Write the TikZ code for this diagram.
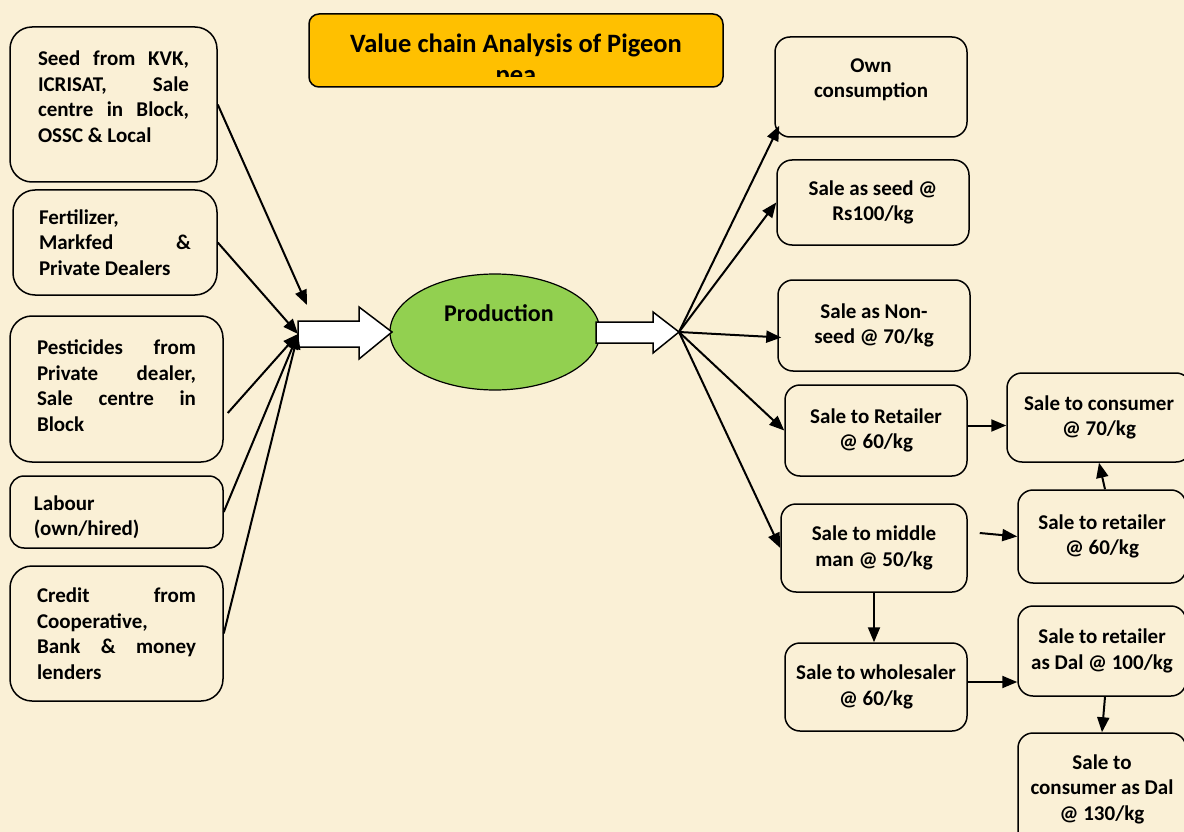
\documentclass[tikz,border=0pt]{standalone}
\usepackage{fontspec}
\setmainfont{Carlito}
\usetikzlibrary{shapes.geometric}
\usetikzlibrary{arrows.meta, positioning, calc}
\usepackage{xcolor}
\definecolor{paper}{RGB}{250,240,214}
\definecolor{titlefill}{RGB}{255,192,0}
\definecolor{prodfill}{RGB}{146,208,80}

\begin{document}
\begin{tikzpicture}[x=1pt, y=-1pt,
    every node/.style={font=\fontsize{21pt}{25.5pt}\selectfont\bfseries},
    inbox/.style={draw, line width=1.5pt, rounded corners=22pt,
        align=justify, inner sep=0pt},
    outbox/.style={draw, line width=1.5pt, rounded corners=15pt,
        align=center, inner sep=0pt},
    feed/.style={line width=2pt, -{Triangle[length=15pt,width=12pt]}},
    fat/.style={draw, line width=1.5pt, fill=white, line join=miter}]

    \fill[paper] (0,0) rectangle (1184,832);
    \useasboundingbox (0,0) rectangle (1184,832);

    % title
    \node[draw, line width=1.5pt, rounded corners=10pt, fill=titlefill,
        minimum width=414pt, minimum height=73pt] (title) at (516,50.5) {};
    \begin{scope}
        \clip (310,15) rectangle (722,77);
        \node[font=\fontsize{26.5pt}{31pt}\selectfont\bfseries, align=center]
            (titletext) at (516,61) {Value chain Analysis of Pigeon\\pea};
    \end{scope}

    % inputs
    \node[inbox, text width=151pt, minimum width=207pt, minimum height=155pt]
        (seed) at (113.5,104.5)
        {Seed from KVK,\linebreak ICRISAT, Sale\linebreak centre in Block,\linebreak OSSC \& Local\par\vspace*{16pt}\nointerlineskip\hbox{}};
    \node[inbox, text width=152pt, minimum width=204pt, minimum height=105pt]
        (fert) at (115,242.5)
        {Fertilizer,\linebreak Markfed \&\linebreak Private Dealers};
    \node[inbox, text width=159pt, minimum width=213pt, minimum height=146pt]
        (pest) at (116.5,389)
        {Pesticides from\linebreak Private dealer,\linebreak Sale centre in\linebreak Block\par\vspace*{7pt}\nointerlineskip\hbox{}};
    \node[inbox, rounded corners=14pt, text width=165pt, minimum width=213pt,
        minimum height=72pt] (labour) at (116.5,512)
        {Labour\newline(own/hired)\par\vspace*{-10pt}\nointerlineskip\hbox{}};
    \node[inbox, text width=159pt, minimum width=213pt, minimum height=135pt]
        (credit) at (116.5,633.5)
        {Credit from\linebreak Cooperative,\linebreak Bank \& money\linebreak lenders};

    % production
    \node[draw, ellipse, fill=prodfill, line width=1.2pt, minimum width=210pt,
        minimum height=116pt, label={[yshift=19pt, xshift=4pt,
        font=\fontsize{24pt}{28pt}\selectfont\bfseries]center:Production}]
        (prod) at (495,332) {};
    \draw[fat] (298,321) -- (359,321) -- (359,307) -- (392,332) -- (359,359)
        -- (359,347) -- (298,347) -- cycle;
    \draw[fat] (596,322) -- (653,322) -- (653,312) -- (679,332) -- (653,353)
        -- (653,343) -- (596,343) -- cycle;
    \coordinate (inL) at (298,334);
    \coordinate (seedtip) at (307,305);
    \coordinate (hub) at (679,332);

    % outlets
    \node[outbox, minimum width=192pt, minimum height=100pt] (own) at (871,87)
        {Own\\consumption\\[-8pt]\mbox{}};
    \node[outbox, minimum width=192pt, minimum height=85pt] (sseed) at (873,202.5)
        {Sale as seed @\\Rs100/kg};
    \node[outbox, minimum width=192pt, minimum height=91pt] (nonseed) at (874,325.5)
        {Sale as Non-\\seed @ 70/kg};
    \node[outbox, minimum width=182pt, minimum height=91pt] (retailer) at (876,430.5)
        {Sale to Retailer\\@ 60/kg};
    \node[outbox, minimum width=186pt, minimum height=88pt] (middle) at (874,548)
        {Sale to middle\\man @ 50/kg};
    \node[outbox, minimum width=182pt, minimum height=88pt] (whole) at (876,687)
        {Sale to wholesaler\\@ 60/kg};
    \node[outbox, minimum width=184pt, minimum height=89pt] (cons70) at (1099,417.5)
        {Sale to consumer\\@ 70/kg};
    \node[outbox, minimum width=168pt, minimum height=93pt] (ret60) at (1102,536.5)
        {Sale to retailer\\@ 60/kg};
    \node[outbox, minimum width=168pt, minimum height=90pt] (dalret) at (1102,651)
        {Sale to retailer\\as Dal @ 100/kg};
    \node[outbox, minimum width=168pt, minimum height=112pt] (dalcons) at (1102,789)
        {Sale to\\consumer as Dal\\@ 130/kg};

    % arrows in
    \draw[feed] (seed.east) -- (seedtip);
    \draw[feed] (fert.east) -- (inL);
    \draw[feed] ($(pest.east)+(4,24)$) -- (inL);
    \draw[feed] (labour.east) -- (inL);
    \draw[feed] (credit.east) -- (inL);

    % arrows out
    \draw[feed] (hub) -- ($(own.south west)+(5,-12)$);
    \draw[feed] (hub) -- (sseed.west);
    \draw[feed] (hub) -- ($(nonseed.west)+(4,12)$);
    \draw[feed] (hub) -- (retailer.west);
    \draw[feed] (hub) -- (middle.west);
    \draw[feed] ([yshift=5pt]retailer.east) -- ([yshift=5pt]retailer.east -| cons70.west);
    \draw[feed] ($(middle.east)+(12,-15)$) -- (ret60.west);
    \draw[feed] ([xshift=3pt]ret60.north) -- (cons70.south);
    \draw[feed] (middle.south) -- (middle.south |- whole.north);
    \draw[feed] ([yshift=5pt]whole.east) -- ([yshift=5pt]whole.east -| dalret.west);
    \draw[feed] ([xshift=3pt]dalret.south) -- (dalcons.north);

\end{tikzpicture}
\end{document}
